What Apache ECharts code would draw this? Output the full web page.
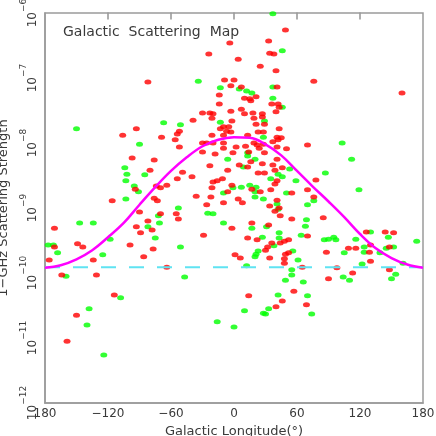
<!DOCTYPE html>
<html><head><meta charset="utf-8">
<script src="https://cdn.jsdelivr.net/npm/echarts@6/dist/echarts.min.js"></script>
<style>html,body{margin:0;padding:0;background:#fff}#c{width:436px;height:436px}</style>
</head><body><div id="c"></div>
<script>
// Galactic longitude (deg) and log10 of 1-GHz scattering strength
const redLon = [
-24,-82,-4,33,34,38,4,25,40,49,
76,160,-9,0,-3,7,41,10,15,21,
-14,-14,36,42,43,7,-3,16,10,18,
27,40,27,19,-30,-23,-20,-21,-39,-2,
21,29,-93,-106,-69,-52,-54,-56,-52,-13,
-10,-5,-7,-3,-10,-21,13,23,28,43,
-30,-26,-20,-10,-10,2,-1,-30,-18,19,
22,24,28,11,41,45,42,37,41,50,
70,29,14,41,5,16,13,27,37,46,
-6,39,23,29,-23,-97,-76,-80,-49,-54,
-40,-11,-16,-20,-21,-64,-74,-70,-94,-116,
-76,-73,-36,-22,-26,-90,-70,-55,-53,-2,
-6,4,8,-10,41,39,17,25,35,55,
70,78,76,34,39,43,55,85,-2,17,
33,-29,13,22,32,30,1,6,34,-64,
-171,-93,-89,-82,-78,-171,-149,-144,-176,-134,
-99,-77,-86,-164,-131,-114,-150,-159,70,52,
48,36,44,49,52,48,48,65,57,69,
14,46,40,88,109,116,126,130,129,130,
144,152,148,148,90,98,113,41,44];
const redLogS = [
-6.63,-7.06,-6.46,-6.43,-6.62,-6.63,-6.71,-6.82,-6.89,-6.26,
-7.05,-7.23,-7.03,-7.03,-7.12,-7.14,-7.14,-7.31,-7.32,-7.29,
-7.26,-7.40,-7.40,-7.40,-7.45,-7.48,-7.51,-7.35,-7.55,-7.54,
-7.55,-7.52,-7.60,-7.62,-7.54,-7.54,-7.55,-7.62,-7.65,-7.66,
-7.71,-7.71,-7.78,-7.88,-7.91,-7.82,-7.86,-7.95,-8.06,-7.78,
-7.75,-7.75,-7.82,-7.83,-7.88,-7.88,-7.88,-7.83,-7.83,-7.78,
-8.00,-8.00,-8.00,-8.00,-8.08,-8.06,-8.15,-8.14,-8.17,-8.00,
-8.03,-8.08,-8.02,-8.05,-7.91,-7.92,-7.95,-7.98,-8.06,-8.09,
-8.03,-8.15,-8.14,-8.25,-8.34,-8.29,-8.37,-8.32,-8.34,-8.38,
-8.42,-8.42,-8.46,-8.46,-8.35,-8.23,-8.26,-8.42,-8.45,-8.55,
-8.52,-8.55,-8.58,-8.60,-8.69,-8.65,-8.66,-8.69,-8.71,-8.89,
-8.85,-8.89,-8.82,-8.83,-8.95,-9.06,-9.09,-9.09,-9.17,-8.65,
-8.75,-8.86,-8.92,-8.92,-8.58,-8.63,-8.71,-8.75,-8.72,-8.77,
-8.72,-8.57,-8.83,-8.97,-9.05,-9.00,-9.17,-9.15,-9.31,-9.23,
-9.26,-9.42,-9.46,-9.49,-9.60,-9.65,-9.72,-9.77,-9.77,-9.91,
-9.31,-9.29,-9.38,-9.20,-9.34,-9.60,-9.55,-9.60,-9.80,-9.80,
-9.57,-9.63,-9.75,-10.03,-10.03,-10.34,-10.65,-11.05,-9.43,-9.49,
-9.51,-9.54,-9.54,-9.71,-9.69,-9.78,-9.85,-9.91,-10.28,-10.49,
-10.35,-10.43,-10.52,-9.68,-9.62,-9.62,-9.37,-9.57,-9.68,-9.82,
-9.37,-9.38,-9.60,-9.95,-10.09,-9.92,-10.00,-8.88,-9.12];

const greenLon = [
37,-34,46,-150,-67,-51,-13,5,12,17,
37,37,46,-13,29,-90,28,103,13,13,
-6,20,112,9,53,42,46,87,-104,-102,
-85,-103,-95,-91,-103,-72,-71,-53,-25,-20,
-1,7,15,21,20,-10,35,59,50,28,
70,76,41,42,69,119,20,-10,17,31,
27,23,21,20,12,-51,-147,-134,-177,-172,
-168,-125,-118,-82,-75,-160,-47,-108,-138,-140,
-124,-16,0,10,28,30,33,42,68,64,
43,43,38,56,61,55,55,49,66,70,
74,86,90,95,97,105,116,124,124,130,
122,147,145,152,139,150,154,161,174,104,110];
const greenLogS = [
-6.01,-7.05,-6.58,-7.78,-7.69,-7.72,-7.15,-7.17,-7.20,-7.23,
-7.14,-7.31,-7.45,-7.68,-7.66,-8.02,-7.91,-8.00,-8.15,-8.20,
-8.25,-8.25,-8.25,-8.37,-8.40,-8.48,-8.52,-8.46,-8.38,-8.48,
-8.49,-8.58,-8.66,-8.75,-8.86,-9.12,-9.23,-9.00,-9.08,-9.09,
-8.69,-8.68,-8.65,-8.68,-8.75,-8.77,-8.55,-8.58,-8.77,-8.86,
-8.95,-8.89,-8.94,-9.02,-9.18,-8.72,-8.83,-9.23,-9.31,-9.29,
-9.45,-9.66,-9.71,-9.75,-9.89,-9.60,-9.23,-9.23,-9.57,-9.57,
-9.69,-9.72,-9.48,-9.29,-9.46,-10.05,-10.06,-10.38,-10.55,-10.80,
-11.26,-10.75,-10.83,-10.58,-10.62,-10.63,-10.55,-10.34,-9.28,-9.42,
-9.38,-9.46,-9.58,-9.66,-9.80,-9.95,-10.03,-10.11,-10.14,-10.35,
-10.63,-9.49,-9.48,-9.45,-9.49,-9.69,-9.48,-9.60,-9.68,-9.37,
-9.86,-9.45,-9.62,-9.60,-9.69,-10.09,-10.02,-9.85,-9.51,-10.06,-10.11];

// model curve every 15 deg
const curveLon  = [-180,-165,-150,-135,-120,-105,-90,-75,-60,-45,-30,-15,0,15,30,45,60,75,90,105,120,135,150,165,180];
const curveLogS = [-9.92,-9.88,-9.79,-9.65,-9.45,-9.23,-8.95,-8.68,-8.43,-8.22,-8.05,-7.95,-7.91,-7.92,-8.02,-8.19,-8.43,-8.67,-8.90,-9.14,-9.40,-9.62,-9.77,-9.87,-9.92];

const baseLon = [-180, 180];
const baseLogS = -9.91;

// top-edge tick positions
const topTicks = [-120, -60, 0, 60, 120];

const yMin = 1e-12, yMax = 1e-6;

const FONT = 'DejaVu Sans';
const TXT = '#3a3a3a';
const FRAME = '#9a9a9a';

const pts = (lon, lg) => lon.map((x, i) => [x, Math.pow(10, lg[i])]);

const chart = echarts.init(document.getElementById('c'), null, {renderer: 'canvas'});
chart.setOption({
  animation: false,
  backgroundColor: '#fff',
  title: {
    text: 'Galactic  Scattering  Map', left: 58, top: 20,
    textStyle: {fontFamily: FONT, fontSize: 14, fontWeight: 'normal', color: TXT}
  },
  grid: {
    left: 45, right: 13, top: 13, bottom: 33, containLabel: false, outerBoundsMode: 'none',
    show: true, borderColor: FRAME, borderWidth: 1.5, backgroundColor: 'transparent'
  },
  xAxis: {
    type: 'value', min: -180, max: 180, interval: 60, position: 'bottom',
    splitLine: {show: false},
    axisLine: {show: true, onZero: false, lineStyle: {color: FRAME, width: 1.5}},
    axisTick: {show: false},
    axisLabel: {
      margin: 5, color: TXT, fontFamily: FONT, fontSize: 12,
      formatter: v => v === -180 ? '180' : String(v).replace('-', '\u2212')
    },
    name: 'Galactic Longitude(\u00b0)', nameLocation: 'middle', nameGap: 21,
    nameTextStyle: {color: TXT, fontFamily: FONT, fontSize: 13}
  },
  yAxis: {
    type: 'log', logBase: 10, min: yMin, max: yMax, interval: 1, splitNumber: 6,
    position: 'left',
    splitLine: {show: false},
    axisTick: {show: false},
    axisLine: {show: true, onZero: false, lineStyle: {color: FRAME, width: 1.5}},
    axisLabel: {
      rotate: 90, margin: 6, color: TXT, fontFamily: FONT,
      formatter: v => {
        const e = Math.round(Math.log10(v));
        return '{b|10}{s|\u2212' + Math.abs(e) + '}';
      },
      rich: {
        b: {fontSize: 12, fontFamily: FONT, color: TXT, lineHeight: 20, verticalAlign: 'bottom'},
        s: {fontSize: 9, fontFamily: FONT, color: TXT, lineHeight: 20, verticalAlign: 'top'}
      }
    },
    name: '1\u2212GHz Scattering Strength', nameLocation: 'middle', nameGap: 35,
    nameTextStyle: {color: TXT, fontFamily: FONT, fontSize: 13}
  },
  series: [
    {
      type: 'scatter', name: 'green', data: pts(greenLon, greenLogS),
      symbol: 'circle', symbolSize: [7, 5], clip: false,
      itemStyle: {color: '#00ff00'}, z: 2
    },
    {
      type: 'scatter', name: 'red', data: pts(redLon, redLogS),
      symbol: 'circle', symbolSize: [7, 5], clip: false,
      itemStyle: {color: '#ff0000'}, z: 3
    },
    {
      type: 'line', name: 'base', data: baseLon.map(x => [x, Math.pow(10, baseLogS)]),
      showSymbol: false, symbol: 'none',
      lineStyle: {color: '#5fe3f2', width: 2, type: [15, 13]}, z: 4
    },
    {
      type: 'line', name: 'model', data: pts(curveLon, curveLogS),
      smooth: 0.4, showSymbol: false, symbol: 'none',
      lineStyle: {color: '#ff00ff', width: 2.5}, z: 5
    },
    {
      type: 'scatter', name: 'topTicks',
      data: topTicks.map(x => [x, yMax]), symbol: 'rect',
      symbolSize: [2, 7], symbolOffset: [0, 3], clip: false, silent: true,
      itemStyle: {color: FRAME}, z: 6
    }
  ]
});
</script></body></html>
